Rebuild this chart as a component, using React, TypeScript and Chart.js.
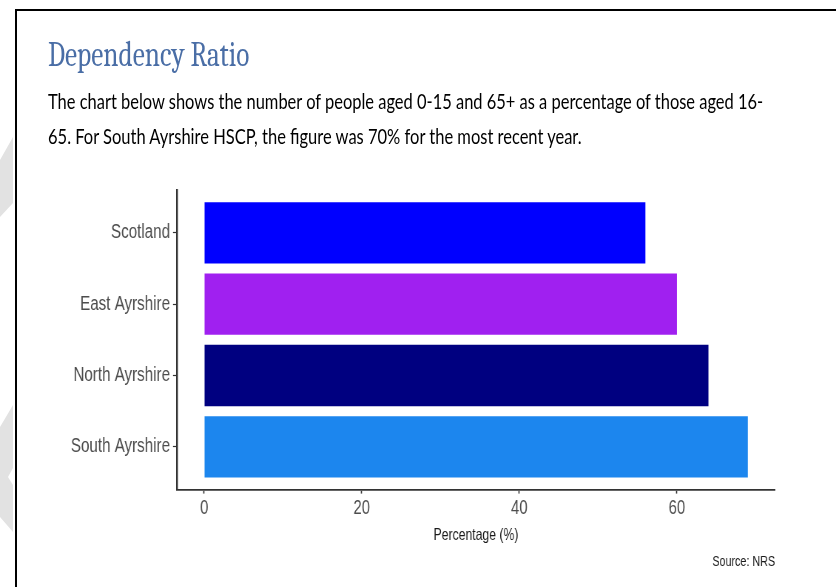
import React, { useEffect, useLayoutEffect, useRef } from "react";
import { Chart, registerables } from "chart.js";

Chart.register(...registerables);

const categories = ["Scotland", "East Ayrshire", "North Ayrshire", "South Ayrshire"];
const values = [56, 60, 64, 69];
const barColors = ["#0000FF", "#A020F0", "#000080", "#1C86EE"];
const xTicks = [0, 20, 40, 60];

const titleText = "Dependency Ratio";
const subtitleLines = [
  "The chart below shows the number of people aged 0-15 and 65+ as a percentage of those aged 16-",
  "65. For South Ayrshire HSCP, the figure was 70% for the most recent year.",
];
const sourceText = "Source: NRS";
const xTitle = "Percentage (%)";

const sans = "'Liberation Sans', Arial, sans-serif";
// the reference's chart text is horizontally condensed; the chart canvas is drawn wider and squeezed
const SQUEEZE = 0.74;
const CANVAS_W = Math.round(836 / SQUEEZE);

function FitText({ text, width, style }: { text: string; width: number; style: React.CSSProperties }) {
  const ref = useRef<HTMLSpanElement>(null);
  useLayoutEffect(() => {
    const el = ref.current;
    if (!el) return;
    const w = el.offsetWidth;
    if (w > 0) el.style.transform = `scaleX(${width / w})`;
  }, [text, width]);
  return (
    <span
      ref={ref}
      style={{ ...style, position: "absolute", whiteSpace: "nowrap", transformOrigin: "0 0", display: "inline-block" }}
    >
      {text}
    </span>
  );
}

export default function App() {
  const canvasRef = useRef<HTMLCanvasElement>(null);

  useEffect(() => {
    if (!canvasRef.current) return;
    const s = 836 / CANVAS_W;
    const chart = new Chart(canvasRef.current, {
      type: "bar",
      data: {
        datasets: [
          {
            data: values.map((v, i) => ({ x: v, y: i + 1 })),
            backgroundColor: barColors,
            borderWidth: 0,
            barPercentage: 0.86,
            categoryPercentage: 1,
          },
        ],
      },
      options: {
        indexAxis: "y",
        animation: false,
        responsive: true,
        maintainAspectRatio: false,
        layout: { padding: { left: 20 / s, top: 190, right: 61 / s, bottom: 12 } },
        plugins: {
          legend: { display: false },
          tooltip: { enabled: false },
          title: { display: false },
          subtitle: {
            display: true,
            text: sourceText,
            position: "bottom",
            align: "end",
            color: "#1a1a1a",
            font: { family: sans, size: 14.5 },
            padding: { top: 4, bottom: 4 },
          },
        },
        scales: {
          x: {
            type: "linear",
            min: -3.45,
            max: 72.45,
            offset: false,
            afterBuildTicks: (scale: any) => {
              scale.ticks = xTicks.map((v) => ({ value: v }));
            },
            afterFit: (scale: any) => {
              scale.height = 60;
            },
            grid: {
              display: true,
              offset: false,
              drawOnChartArea: false,
              drawTicks: true,
              tickLength: 4,
              tickColor: "#333333",
              tickWidth: 1.2 / s,
            },
            border: { display: true, color: "#333333", width: 1.8 },
            ticks: {
              color: "#4d4d4d",
              font: { family: sans, size: 20 },
              padding: 3,
              maxRotation: 0,
              callback: (v: any) => String(v),
            },
            title: {
              display: true,
              text: xTitle,
              color: "#1a1a1a",
              font: { family: sans, size: 16.5 },
              padding: { top: 4, bottom: 4 },
            },
          },
          y: {
            type: "linear",
            reverse: true,
            min: 0.4,
            max: 4.6,
            offset: false,
            afterBuildTicks: (scale: any) => {
              scale.ticks = categories.map((_, i) => ({ value: i + 1 }));
            },
            afterFit: (scale: any) => {
              scale.width = 157 / s;
            },
            grid: {
              display: true,
              offset: false,
              drawOnChartArea: false,
              drawTicks: true,
              tickLength: 4 / s,
              tickColor: "#333333",
              tickWidth: 1.2,
            },
            border: { display: true, color: "#333333", width: 1.8 / s },
            ticks: {
              color: "#4d4d4d",
              font: { family: sans, size: 20.5 },
              padding: 3 / s,
              callback: (v: any) => categories[Math.round(Number(v)) - 1] ?? "",
            },
          },
        },
      },
    });
    return () => chart.destroy();
  }, []);

  return (
    <div style={{ position: "fixed", left: 0, top: 0, width: 836, height: 587, background: "#ffffff", overflow: "hidden" }}>
      {/* decorative grey chevrons at the left edge */}
      <div
        style={{
          position: "absolute",
          left: 0,
          top: 0,
          width: 16,
          height: 587,
          background: "#e2e2e2",
          clipPath:
            "polygon(0 160px, 13px 137px, 13px 203px, 0 217px, 0 427px, 13px 405px, 13px 468px, 8px 477px, 13px 485px, 13px 532px, 0 517px)",
        }}
      />
      {/* frame */}
      <div
        style={{
          position: "absolute",
          left: 15,
          top: 9,
          width: 900,
          height: 700,
          border: "2px solid #000",
          boxSizing: "border-box",
        }}
      />
      <div
        style={{
          position: "absolute",
          left: 0,
          top: 0,
          width: CANVAS_W,
          height: 587,
          transform: `scaleX(${836 / CANVAS_W})`,
          transformOrigin: "0 0",
        }}
      >
        <canvas ref={canvasRef} />
      </div>
      <FitText
        text={titleText}
        width={201}
        style={{
          left: 48,
          top: 38,
          fontFamily: "Cambria, 'Liberation Serif', 'DejaVu Serif', serif",
          fontSize: 35,
          lineHeight: "34px",
          color: "#4a6ea6",
        }}
      />
      <FitText
        text={subtitleLines[0]}
        width={715}
        style={{ left: 48, top: 84, fontFamily: "Lato, 'Open Sans', sans-serif", fontSize: 21.5, lineHeight: "35px", color: "#000" }}
      />
      <FitText
        text={subtitleLines[1]}
        width={534}
        style={{ left: 48, top: 119, fontFamily: "Lato, 'Open Sans', sans-serif", fontSize: 21.5, lineHeight: "35px", color: "#000" }}
      />
    </div>
  );
}
